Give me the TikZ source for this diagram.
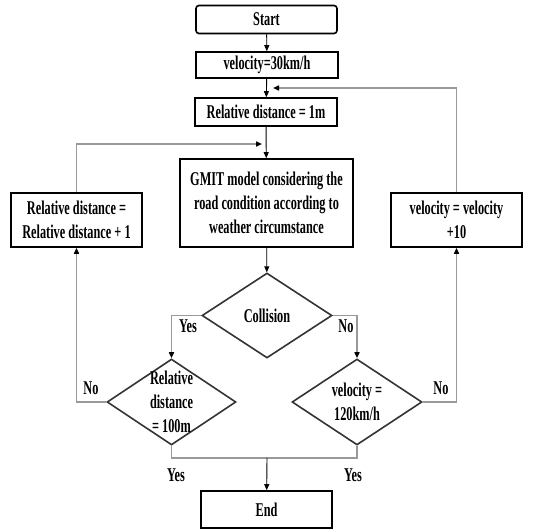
\documentclass[tikz,border=0pt]{standalone}
\usepackage{fontspec}
\setmainfont[FakeStretch=0.63]{Liberation Serif}
\usetikzlibrary{arrows.meta, shapes.geometric}

\begin{document}
\begin{tikzpicture}[x=1pt,y=-1pt,>={Triangle[length=6pt,width=5pt]},
    font=\bfseries\fontsize{19.5}{24}\selectfont,
    box/.style={draw=black,line width=1.6pt,inner sep=0pt,align=center},
    cond/.style={diamond,draw=black!80,line width=1.6pt,inner sep=0pt},
    flow/.style={->,black,line width=0.9pt},
    back/.style={-{Triangle[black,length=6pt,width=5pt]},black!40,line width=1.8pt},
    merge/.style={black!40,line width=1.8pt},
    tag/.style={inner sep=0pt}]
    \useasboundingbox (0,0) rectangle (555,530);

    \node[box, rounded corners=3pt, minimum width=141pt, minimum height=28pt] (start) at (266.5,19.5) {Start};
    \node[box, minimum width=142pt, minimum height=26pt] (vinit) at (267,65) {velocity=30km/h};
    \node[box, minimum width=142pt, minimum height=28pt] (rel1) at (266,112) {Relative distance = 1m};
    \node[box, minimum width=173pt, minimum height=88pt] (gmit) at (266.5,203)
        {GMIT model considering the\\road condition according to\\weather circumstance};
    \node[box, minimum width=131pt, minimum height=54pt] (relinc) at (76.5,220)
        {Relative distance =\\Relative distance + 1};
    \node[box, minimum width=131pt, minimum height=54pt] (velinc) at (456.5,220)
        {velocity = velocity\\+10};
    \node[cond, minimum width=130pt, minimum height=85pt, label={center:Collision}] (coll) at (267,315.5) {};
    \node[cond, minimum width=129pt, minimum height=86pt,
        label={[align=center]center:Relative\\distance\\= 100m}] (reldist) at (171.5,402) {};
    \node[cond, minimum width=130pt, minimum height=86pt,
        label={[align=center]center:velocity =\\120km/h}] (velmax) at (357,402) {};
    \node[box, minimum width=131pt, minimum height=37pt] (end) at (266.5,509.5) {End};

    \coordinate (lmerge) at (262,144);
    \coordinate (rmerge) at (273,88);
    \coordinate (bjoin) at (267,458);

    \draw[flow] (start) -- (vinit);
    \draw[flow] (vinit) -- (rel1);
    \draw[flow] (rel1) -- (gmit);
    \draw[flow] (gmit) -- (coll);
    \draw[back] (coll.west) -| (reldist.north);
    \draw[back] (coll.east) -| (velmax.north);
    \draw[back] (reldist.west) -| (relinc.south);
    \draw[back] (velmax.east) -| (velinc.south);
    \draw[back] (relinc.north) |- (lmerge);
    \draw[back] (velinc.north) |- (rmerge);
    \draw[merge] (reldist.south) |- (bjoin) -| (velmax.south);
    \draw[flow] (bjoin) -- (end);

    \node[tag] (yes1) at (188,326) {Yes};
    \node[tag] (no1) at (346,326) {No};
    \node[tag] (no2) at (91,388) {No};
    \node[tag] (no3) at (441,388) {No};
    \node[tag] (yes2) at (176,475) {Yes};
    \node[tag] (yes3) at (353,475) {Yes};
\end{tikzpicture}
\end{document}
